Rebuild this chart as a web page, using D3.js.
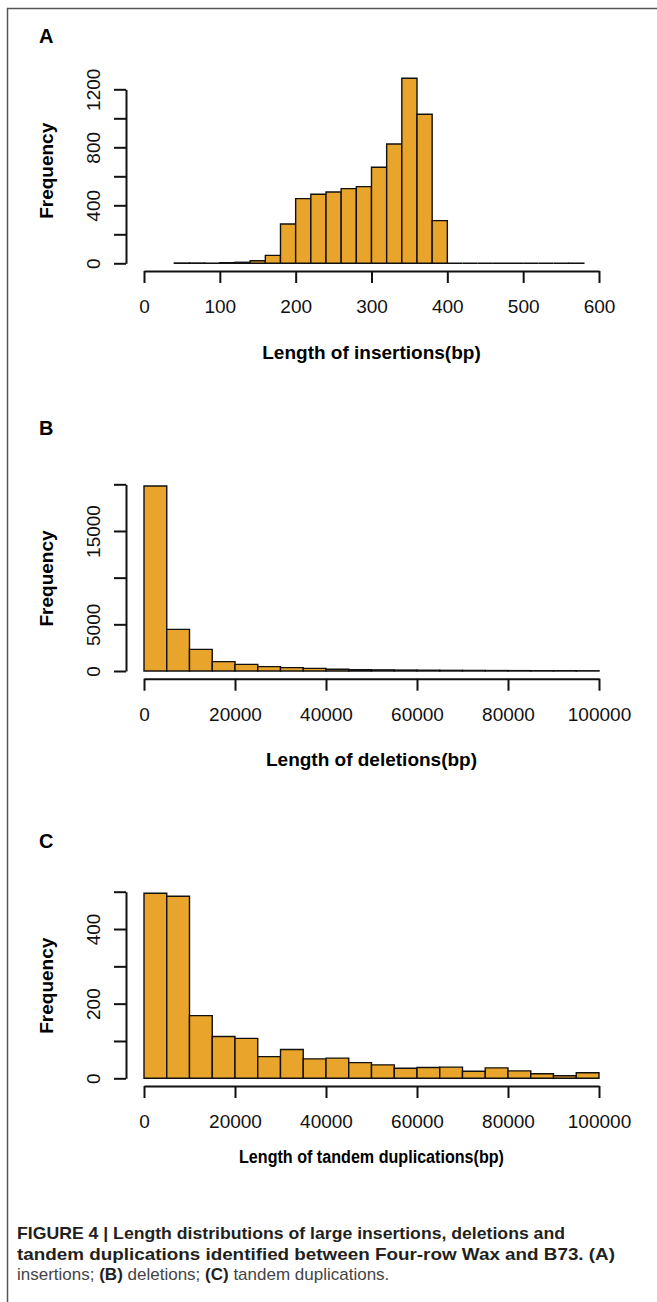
<!DOCTYPE html>
<html>
<head>
<meta charset="utf-8">
<script src="https://cdn.jsdelivr.net/npm/d3@7"></script>
<style>
body { margin: 0; background: #fff; }
text { font-family: "Liberation Sans", Arial, Helvetica, sans-serif; }
</style>
</head>
<body>
<div id="chart"></div>
<script>
// (A) insertions, 20 bp bins
const insBins = [40, 60, 80, 100, 120, 140, 160, 180, 200, 220, 240, 260, 280, 300, 320,
    340, 360, 380, 400, 420, 440, 460, 480, 500, 520, 540, 560];
const insCounts = [2, 2, 1, 4, 7, 18, 55, 271, 446, 476, 492, 515, 529, 662, 823,
    1276, 1028, 294, 0, 0, 0, 0, 0, 0, 0, 0, 1];
const insXTicks = [0, 100, 200, 300, 400, 500, 600];
const insYTicks = [0, 200, 400, 600, 800, 1000, 1200];
const insYLabels = ["0", "", "400", "", "800", "", "1200"];

// (B) deletions and (C) tandem duplications, 5000 bp bins
const bigBins = [0, 5000, 10000, 15000, 20000, 25000, 30000, 35000, 40000, 45000,
    50000, 55000, 60000, 65000, 70000, 75000, 80000, 85000, 90000, 95000];
const bigXTicks = [0, 20000, 40000, 60000, 80000, 100000];

const delCounts = [19820, 4460, 2320, 1000, 714, 464, 357, 286, 190, 150,
    120, 100, 85, 70, 60, 50, 40, 35, 30, 25];
const delYTicks = [0, 5000, 10000, 15000, 20000];
const delYLabels = ["0", "5000", "", "15000", ""];

const dupCounts = [496, 488, 168, 112, 107, 58, 77, 52, 54, 42,
    36, 27, 29, 30, 19, 28, 20, 12, 7, 15];
const dupYTicks = [0, 100, 200, 300, 400, 500];
const dupYLabels = ["0", "", "200", "", "400", ""];

const W = 657, H = 1302;
const barFill = "#e9a52b";

const svg = d3.select("#chart").append("svg")
    .attr("width", W)
    .attr("height", H);

// figure frame (top + left only, the rest is cropped)
svg.append("path")
    .attr("d", "M7.5,1302V8.5H657")
    .attr("fill", "none")
    .attr("stroke", "#555")
    .attr("stroke-width", 1.5);

function drawHist(p) {
    const g = svg.append("g");

    const x = d3.scaleLinear().domain(p.xDomain).range([144, 599]);
    const y = d3.scaleLinear().domain(p.yDomain).range([p.y0, p.yTop]);

    // panel letter
    g.append("text")
        .attr("x", 39)
        .attr("y", p.letterY)
        .attr("font-size", 20)
        .attr("font-weight", "bold")
        .text(p.letter);

    // bars as closed paths so that empty bins still show as a flat line (like R)
    g.selectAll("path.bar")
        .data(p.bins.map((b, i) => ({ b: b, c: p.counts[i] })))
        .join("path")
        .attr("class", "bar")
        .attr("d", d => {
            const x0 = x(d.b), x1 = x(d.b + p.binW), y0 = y(0), y1 = y(d.c);
            return `M${x0},${y0}V${y1}H${x1}V${y0}Z`;
        })
        .attr("fill", barFill)
        .attr("stroke", "#111")
        .attr("stroke-width", 1.4);

    // x axis, R style: offset below the plot
    const xAxis = g.append("g")
        .attr("transform", `translate(0,${p.y0 + 7.7})`)
        .call(d3.axisBottom(x).tickValues(p.xTicks).tickSize(12).tickSizeOuter(0).tickFormat(d3.format("d")));
    xAxis.attr("font-family", null);
    xAxis.select(".domain").attr("stroke-width", 2).attr("stroke", "#111");
    xAxis.selectAll(".tick line").attr("stroke-width", 2).attr("stroke", "#111");
    xAxis.selectAll(".tick text")
        .attr("y", 42.3)
        .attr("dy", null)
        .attr("font-size", 19)
        .attr("fill", "#111");

    // y axis
    const yAxis = g.append("g")
        .attr("transform", "translate(126,0)")
        .call(d3.axisLeft(y).tickValues(p.yTicks).tickSize(12).tickSizeOuter(0)
            .tickFormat((d, i) => p.yLabels[i]));
    yAxis.attr("font-family", null);
    yAxis.select(".domain").attr("stroke-width", 2).attr("stroke", "#111");
    yAxis.selectAll(".tick line").attr("stroke-width", 2).attr("stroke", "#111");
    yAxis.selectAll(".tick text")
        .attr("x", 0)
        .attr("y", -26)
        .attr("dy", null)
        .attr("transform", "rotate(-90)")
        .attr("text-anchor", "middle")
        .attr("font-size", 19)
        .attr("fill", "#111");

    // axis titles
    g.append("text")
        .attr("transform", `translate(53,${y(d3.max(p.counts) / 2)}) rotate(-90)`)
        .attr("text-anchor", "middle")
        .attr("font-size", 19)
        .attr("font-weight", "bold")
        .text("Frequency");

    const xt = g.append("text")
        .attr("x", 371.5)
        .attr("y", p.titleY)
        .attr("text-anchor", "middle")
        .attr("font-size", p.titleSize)
        .attr("font-weight", "bold")
        .text(p.title);
    if (p.titleLen) xt.attr("textLength", p.titleLen).attr("lengthAdjust", "spacingAndGlyphs");
}

drawHist({
    letter: "A", letterY: 43,
    bins: insBins, counts: insCounts, binW: 20,
    xDomain: [0, 600], xTicks: insXTicks,
    yDomain: [0, 1200], yTicks: insYTicks, yLabels: insYLabels,
    y0: 263.3, yTop: 89.3,
    title: "Length of insertions(bp)", titleY: 359, titleSize: 19
});

drawHist({
    letter: "B", letterY: 435,
    bins: bigBins, counts: delCounts, binW: 5000,
    xDomain: [0, 100000], xTicks: bigXTicks,
    yDomain: [0, 20000], yTicks: delYTicks, yLabels: delYLabels,
    y0: 671, yTop: 484.3,
    title: "Length of deletions(bp)", titleY: 766, titleSize: 19
});

drawHist({
    letter: "C", letterY: 848,
    bins: bigBins, counts: dupCounts, binW: 5000,
    xDomain: [0, 100000], xTicks: bigXTicks,
    yDomain: [0, 500], yTicks: dupYTicks, yLabels: dupYLabels,
    y0: 1078.3, yTop: 891.7,
    title: "Length of tandem duplications(bp)", titleY: 1163, titleSize: 18, titleLen: 265
});

// caption
const cap = svg.append("g").attr("font-size", 17);
const capLines = [
    [["FIGURE 4 | Length distributions of large insertions, deletions and", true]],
    [["tandem duplications identified between Four-row Wax and B73. (A)", true]],
    [["insertions; ", false], ["(B)", true], [" deletions; ", false], ["(C)", true], [" tandem duplications.", false]]
];
const capLens = [548, 598, null];
capLines.forEach((parts, i) => {
    const t = cap.append("text")
        .attr("x", 17)
        .attr("y", 1239 + i * 20.5);
    parts.forEach(([s, bold]) => {
        t.append("tspan")
            .attr("font-weight", bold ? "bold" : "normal")
            .attr("fill", bold ? "#231f20" : "#444")
            .text(s);
    });
    if (capLens[i]) t.attr("textLength", capLens[i]).attr("lengthAdjust", "spacingAndGlyphs");
});
</script>
</body>
</html>
